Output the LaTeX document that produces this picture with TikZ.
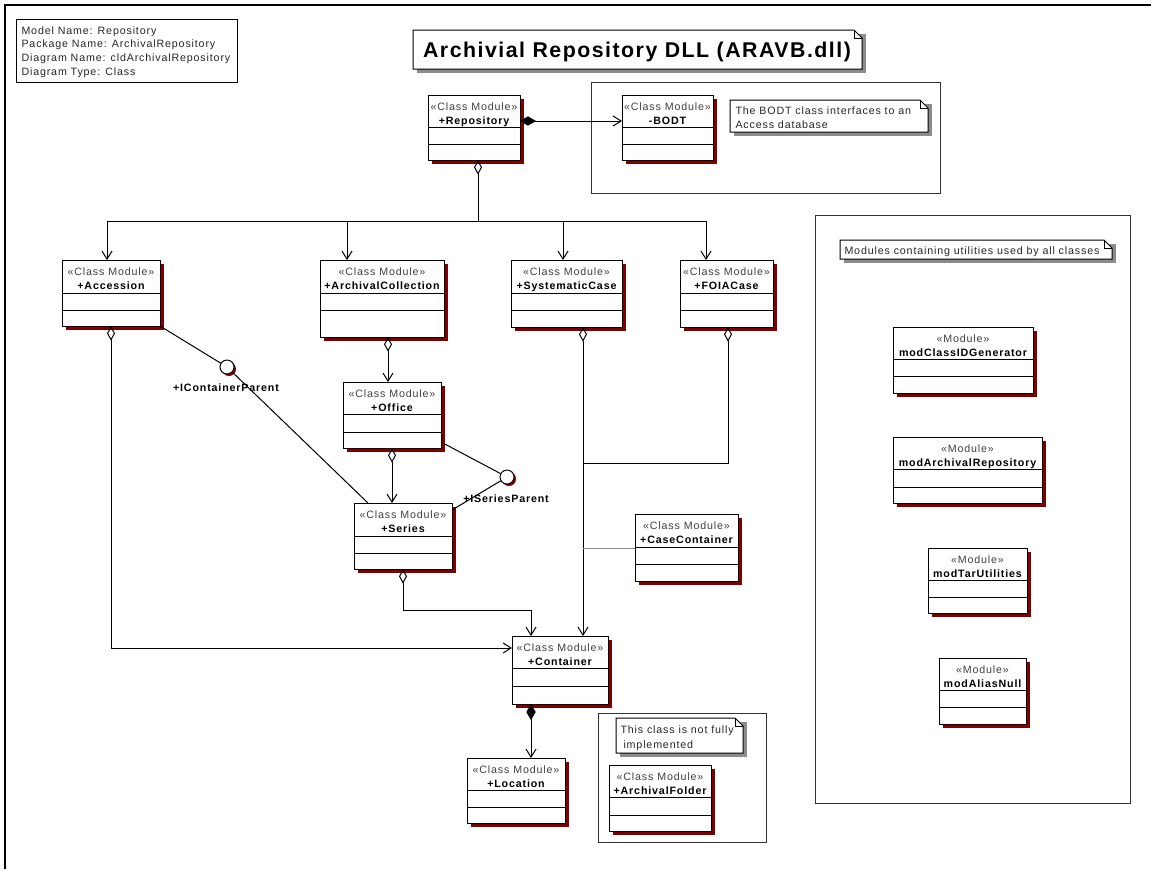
\documentclass[tikz,border=0pt]{standalone}
\usepackage{fontspec}
\setmainfont{Liberation Sans}
\newfontfamily\rosefont[LetterSpace=8]{Liberation Sans}
\newfontfamily\titlefont[LetterSpace=7]{Liberation Sans}
\usetikzlibrary{arrows.meta,shadows,fit}

\definecolor{shadowred}{HTML}{800000}
\definecolor{notegray}{HTML}{8C8C8C}

\tikzset{
  classbox/.style={draw=black, fill=white, inner sep=0pt, outer sep=0pt,
    general shadow={fill=shadowred, shadow xshift=3pt, shadow yshift=-3pt}},
  pkgbox/.style={draw=black!80, inner sep=0pt, outer sep=0pt},
  stereo/.style={font=\rosefont\fontsize{8}{9.6}\selectfont, text=black!75, inner sep=0pt},
  cname/.style={font=\rosefont\bfseries\fontsize{8}{9.6}\selectfont, inner sep=0pt},
  notetext/.style={font=\rosefont\fontsize{8}{9.6}\selectfont, text=black!85, inner sep=0pt},
  lolli/.style={circle, draw=black, fill=white, minimum size=10.5pt, inner sep=0pt,
    general shadow={fill=shadowred, shadow xshift=1.5pt, shadow yshift=-1.5pt}},
  barb/.style={-{Straight Barb[length=6pt,width=7.5pt]}},
  aggr/.style={{Diamond[open,length=11pt,width=6pt]}-},
  aggrbarb/.style={{Diamond[open,length=11pt,width=6pt]}-{Straight Barb[length=6pt,width=7.5pt]}},
  compbarb/.style={{Diamond[length=12pt,width=7pt]}-{Straight Barb[length=6pt,width=7.5pt]}},
}

% class box: name, left, top, right, bottom, line1, line2, stereotype, title
\newcommand\umlclass[9]{%
  \node[classbox, fit={(#2,#3) (#4,#5)}] (#1) {};
  \draw (#2,#6) -- (#4,#6);
  \draw (#2,#7) -- (#4,#7);
  \node[stereo, anchor=base] (#1-st) at ({(#2+#4)/2},{#3+15}) {«#8»};
  \node[cname, anchor=base] (#1-nm) at ({(#2+#4)/2},{#3+29}) {#9};
}

% note with folded corner: name, left, top, right, bottom, fold
\newcommand\umlnote[6]{%
  \fill[notegray] (#2+4,#3+4) rectangle (#4+4,#5+4);
  \filldraw[fill=white, draw=black] (#2,#3) -- (#4-#6,#3) -- (#4,#3+#6) -- (#4,#5) -- (#2,#5) -- cycle;
  \draw (#4-#6,#3) -- (#4-#6,#3+#6) -- (#4,#3+#6);
  \node[fit={(#2,#3) (#4,#5)}, inner sep=0pt, outer sep=0pt] (#1) {};
}

\begin{document}
\begin{tikzpicture}[x=0.75pt, y=-0.75pt, line width=0.75pt]
\useasboundingbox (0,0) rectangle (1151,869);
\fill[white] (0,0) rectangle (1151,869);

% sheet frame
\draw[line width=1.5pt] (5,869) -- (5,5) -- (1151,5);

% diagram information
\node[draw=black, fit={(16,19) (237,82)}, inner sep=0pt] (info) {};
\node[notetext, anchor=base west] (info1) at (21,34) {Model Name: Repository};
\node[notetext, anchor=base west] (info2) at (21,47) {Package Name: ArchivalRepository};
\node[notetext, anchor=base west] (info3) at (21,61) {Diagram Name: cldArchivalRepository};
\node[notetext, anchor=base west] (info4) at (21,75) {Diagram Type: Class};

% title
\umlnote{titlenote}{413}{30}{862}{69}{8}
\node[font=\titlefont\bfseries\fontsize{16}{19}\selectfont, inner sep=0pt, anchor=base] (title) at (637,57) {Archivial Repository DLL (ARAVB.dll)};

% packages
\node[pkgbox, fit={(591,82) (940,193)}] (pkgbodt) {};
\node[pkgbox, fit={(815,215) (1130,803)}] (pkgmods) {};
\node[pkgbox, fit={(598,713) (766,842)}] (pkgfold) {};

% notes
\umlnote{bodtnote}{730}{100}{928}{132}{8}
\node[notetext, anchor=base west] (bodtn1) at (735,114) {The BODT class interfaces to an};
\node[notetext, anchor=base west] (bodtn2) at (735,128) {Access database};

\umlnote{modnote}{840}{240}{1112}{259}{8}
\node[notetext, anchor=base west] (modn1) at (844,254) {Modules containing utilities used by all classes};

\umlnote{foldnote}{616}{718}{743}{753}{8}
\node[notetext, anchor=base west] (foldn1) at (620,733) {This class is not fully};
\node[notetext, anchor=base west] (foldn2) at (623,748) {implemented};

% classes
\umlclass{rep}{428}{95}{520}{160}{127}{144}{Class Module}{+Repository}
\umlclass{bodt}{622}{95}{713}{160}{127}{144}{Class Module}{-BODT}
\umlclass{acc}{62}{260}{160}{326}{293}{310}{Class Module}{+Accession}
\umlclass{coll}{320}{260}{444}{337}{293}{310}{Class Module}{+ArchivalCollection}
\umlclass{sys}{511}{260}{622}{327}{293}{310}{Class Module}{+SystematicCase}
\umlclass{foia}{680}{260}{773}{327}{293}{310}{Class Module}{+FOIACase}
\umlclass{off}{343}{382}{441}{448}{414}{432}{Class Module}{+Office}
\umlclass{ser}{354}{503}{452}{569}{536}{553}{Class Module}{+Series}
\umlclass{cc}{635}{514}{738}{581}{547}{564}{Class Module}{+CaseContainer}
\umlclass{cont}{512}{636}{608}{704}{668}{686}{Class Module}{+Container}
\umlclass{loc}{467}{758}{565}{823}{790}{807}{Class Module}{+Location}
\umlclass{afold}{609}{765}{711}{831}{797}{815}{Class Module}{+ArchivalFolder}
\umlclass{mcg}{893}{327}{1033}{393}{359}{376}{Module}{modClassIDGenerator}
\umlclass{mar}{893}{437}{1042}{503}{469}{487}{Module}{modArchivalRepository}
\umlclass{mtu}{928}{548}{1027}{613}{580}{597}{Module}{modTarUtilities}
\umlclass{man}{939}{658}{1026}{724}{690}{707}{Module}{modAliasNull}

% interfaces
\node[lolli] (icp) at (227,367) {};
\node[cname, anchor=base] (icplbl) at (226,391) {+IContainerParent};
\node[lolli] (isp) at (507,477) {};
\node[cname, anchor=base] (isplbl) at (506,502) {+ISeriesParent};

% junction points
\coordinate (j1) at (478,221);
\coordinate (j2) at (583,463);

% connectors
\draw[compbarb] (rep.east |- 0,121) -- (bodt.west |- 0,121);
\draw[aggr] (478,0 |- rep.south) -- (j1);
\draw[barb] (j1) -| (107,0 |- acc.north);
\draw[barb] (j1) -| (347,0 |- coll.north);
\draw[barb] (j1) -| (563,0 |- sys.north);
\draw[barb] (j1) -| (706,0 |- foia.north);

\draw[aggrbarb] (111,0 |- acc.south) |- (cont.west |- 0,648);
\draw (acc.south east) -- (icp);
\draw (icp) -- (368,0 |- ser.north);

\draw[aggrbarb] (388,0 |- coll.south) -- (388,0 |- off.north);
\draw[aggrbarb] (392,0 |- off.south) -- (392,0 |- ser.north);
\draw (off.east |- 0,442) -- (isp);
\draw (isp) -- (ser.east |- 0,510);

\draw[aggrbarb] (403,0 |- ser.south) -- (403,610) -| (531,0 |- cont.north);
\draw[aggrbarb] (583,0 |- sys.south) -- (583,0 |- cont.north);
\draw[aggr] (728,0 |- foia.south) |- (j2);
\draw[black!45] (cc.west |- 0,548) -- (583,548);

\draw[compbarb] (531,0 |- cont.south) -- (531,0 |- loc.north);
\end{tikzpicture}
\end{document}
